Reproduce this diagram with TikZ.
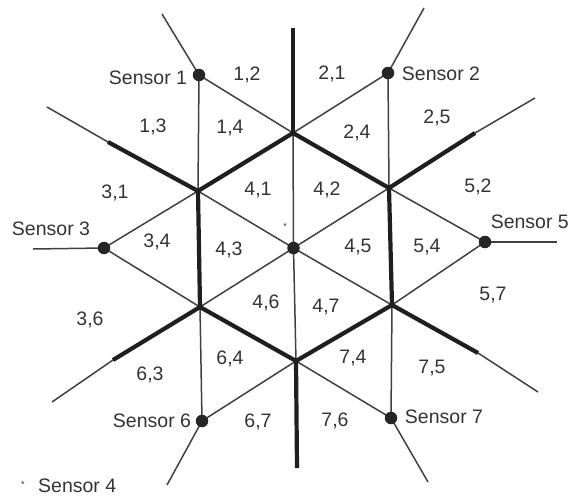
\documentclass[tikz,border=0pt]{standalone}
\usepackage{fontspec}
\setmainfont{Liberation Sans}
\begin{document}
\begin{tikzpicture}[x=1pt,y=-1pt,
 thinline/.style={line width=1.5pt, draw=black!75},
 thickline/.style={line width=4.2pt, draw=black!88, line join=round},
 sensor/.style={circle, fill=black!85, inner sep=0pt, minimum size=12.5pt},
 lbl/.style={font=\fontsize{19.5}{21}\selectfont, text=black!80, inner sep=0pt},
 star/.style={font=\fontsize{9}{10}\selectfont, text=black!80, inner sep=0pt},
]
\useasboundingbox (0,0) rectangle (571,498);
% sensor positions and vertices
\coordinate (C) at (293.5,248);
\coordinate (S1) at (199,75);
\coordinate (S2) at (388,73);
\coordinate (S3) at (104,248);
\coordinate (S5) at (485,242);
\coordinate (S6) at (202,421);
\coordinate (S7) at (391,418);
\coordinate (T) at (293,133);
\coordinate (UL) at (198,191);
\coordinate (UR) at (389,188);
\coordinate (LL) at (200,307);
\coordinate (LR) at (392,305);
\coordinate (B) at (296,361);
\coordinate (TE) at (293,28);
\coordinate (BE) at (297,468);
\coordinate (ULE) at (108,142);
\coordinate (URE) at (475,133);
\coordinate (LLE) at (113,360);
\coordinate (LRE) at (478,353);
\coordinate (ULF) at (47,107);
\coordinate (URF) at (535,98);
\coordinate (LLF) at (52,402);
\coordinate (LRF) at (538,392);
\coordinate (S1F) at (162,14);
\coordinate (S2F) at (424,8);
\coordinate (S3F) at (33,249);
\coordinate (S5F) at (557,242);
\coordinate (S6F) at (167,485);
\coordinate (S7F) at (428,482);
% thin lines
\draw[thinline] (S1) -- (T) -- (UR) -- (S5);
\draw[thinline] (S2) -- (T) -- (UL) -- (S3);
\draw[thinline] (S3) -- (LL) -- (B) -- (S7);
\draw[thinline] (S5) -- (LR) -- (B) -- (S6);
\draw[thinline] (S1) -- (UL) -- (LL) -- (S6);
\draw[thinline] (S2) -- (UR) -- (LR) -- (S7);
\draw[thinline] (ULF) -- (ULE) -- (UL) -- (C) -- (LR) -- (LRE) -- (LRF);
\draw[thinline] (URF) -- (URE) -- (UR) -- (C) -- (LL) -- (LLE) -- (LLF);
\draw[thinline] (TE) -- (T) -- (C) -- (B) -- (BE);
\draw[thinline] (S1) -- (S1F);
\draw[thinline] (S2) -- (S2F);
\draw[thinline] (S3) -- (S3F);
\draw[thinline] (S5) -- (S5F);
\draw[thinline] (S6) -- (S6F);
\draw[thinline] (S7) -- (S7F);
% thick boundaries
\draw[thickline] (T) -- (UL) -- (LL) -- (B) -- (LR) -- (UR) -- cycle;
\draw[thickline] (T) -- (TE);
\draw[thickline] (B) -- (BE);
\draw[thickline] (UL) -- (ULE);
\draw[thickline] (UR) -- (URE);
\draw[thickline] (LL) -- (LLE);
\draw[thickline] (LR) -- (LRE);
% sensors
\node[sensor] (n1) at (S1) {};
\node[sensor] (n2) at (S2) {};
\node[sensor] (n3) at (S3) {};
\node[sensor] (n4) at (C) {};
\node[sensor] (n5) at (S5) {};
\node[sensor] (n6) at (S6) {};
\node[sensor] (n7) at (S7) {};
% sensor names
\node[lbl] (t1) at (148,78) {Sensor 1};
\node[lbl] (t2) at (441,74) {Sensor 2};
\node[lbl] (t3) at (51,229) {Sensor 3};
\node[lbl, anchor=east] (t5) at (569,222) {Sensor 5};
\node[lbl] (t6) at (152,421) {Sensor 6};
\node[lbl] (t7) at (444,417) {Sensor 7};
\node[star] (a4) at (285,226) {*};
\node[star] (a0) at (23,484) {*};
\node[lbl, anchor=west] (t4) at (38,486) {Sensor 4};
% region labels
\node[lbl] (l12) at (247,75) {1,2};
\node[lbl] (l21) at (332,74) {2,1};
\node[lbl] (l13) at (153,127) {1,3};
\node[lbl] (l14) at (230,128) {1,4};
\node[lbl] (l24) at (357,133) {2,4};
\node[lbl] (l25) at (437,118) {2,5};
\node[lbl] (l31) at (115,193) {3,1};
\node[lbl] (l41) at (258,190) {4,1};
\node[lbl] (l42) at (327,190) {4,2};
\node[lbl] (l52) at (478,187) {5,2};
\node[lbl] (l34) at (157,242) {3,4};
\node[lbl] (l43) at (229,250) {4,3};
\node[lbl] (l45) at (358,247) {4,5};
\node[lbl] (l54) at (427,247) {5,4};
\node[lbl] (l36) at (90,320) {3,6};
\node[lbl] (l57) at (493,295) {5,7};
\node[lbl] (l46) at (266,303) {4,6};
\node[lbl] (l47) at (326,307) {4,7};
\node[lbl] (l63) at (150,375) {6,3};
\node[lbl] (l64) at (230,359) {6,4};
\node[lbl] (l74) at (353,358) {7,4};
\node[lbl] (l75) at (432,368) {7,5};
\node[lbl] (l67) at (258,422) {6,7};
\node[lbl] (l76) at (335,421) {7,6};
\end{tikzpicture}
\end{document}
